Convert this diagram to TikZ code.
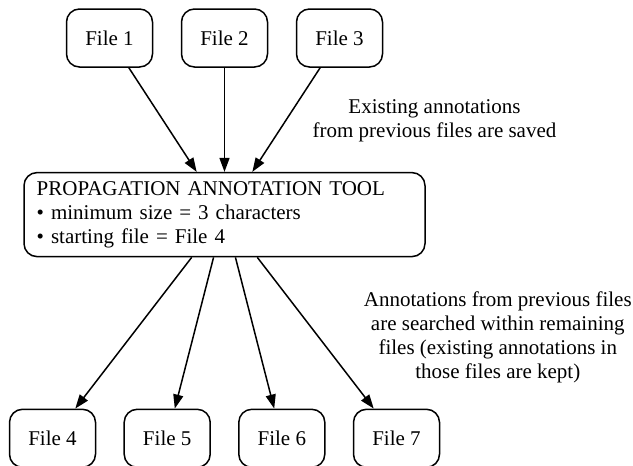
\documentclass[tikz,border=0pt]{standalone}
\usepackage{fontspec}
\setmainfont{Liberation Serif}
\usetikzlibrary{arrows.meta}
\tikzset{
  filebox/.style={draw, line width=1.5pt, rounded corners=13pt, minimum width=86pt, minimum height=58pt, inner sep=0pt, font=\fontsize{21}{24}\selectfont},
  toolbox/.style={draw, line width=1.5pt, rounded corners=13pt, minimum height=84pt, text width=375.6pt, inner xsep=12.7pt, inner ysep=0pt, align=left, font=\fontsize{21}{24}\selectfont},
  lbl/.style={inner sep=0pt, align=center, font=\fontsize{21}{24}\selectfont},
  arr/.style={line width=1.5pt, -{Triangle[length=14pt, width=10pt]}}
}
\begin{document}
\begin{tikzpicture}[x=1pt, y=-1pt]
\useasboundingbox (0,0) rectangle (633,466);
\clip (0,0) rectangle (633,466);
\node[filebox] (f1) at (109.5,38) {File 1};
\node[filebox] (f2) at (224.5,38) {File 2};
\node[filebox] (f3) at (339.5,38) {File 3};
\node[toolbox] (tool) at (224.5,214.6) {PROPAGATION ANNOTATION TOOL\\ \textbullet\ minimum size = 3 characters\\ \textbullet\ starting file = File 4};
\node[filebox] (f4) at (52.5,438.3) {File 4};
\node[filebox] (f5) at (167.2,438.3) {File 5};
\node[filebox] (f6) at (281.8,438.3) {File 6};
\node[filebox] (f7) at (396.5,438.3) {File 7};
\node[lbl] (l1) at (434.5,120.5) {Existing annotations\\from previous files are saved};
\node[lbl] (l2) at (497.8,337.7) {Annotations from previous files\\are searched within remaining\\files (existing annotations in\\those files are kept)};
\draw[arr] (f1) -- (tool);
\draw[arr] (f2) -- (tool);
\draw[arr] (f3) -- (tool);
\draw[arr] (tool) -- (f4);
\draw[arr] (tool) -- (f5);
\draw[arr] (tool) -- (f6);
\draw[arr] (tool) -- (f7);
\end{tikzpicture}
\end{document}
